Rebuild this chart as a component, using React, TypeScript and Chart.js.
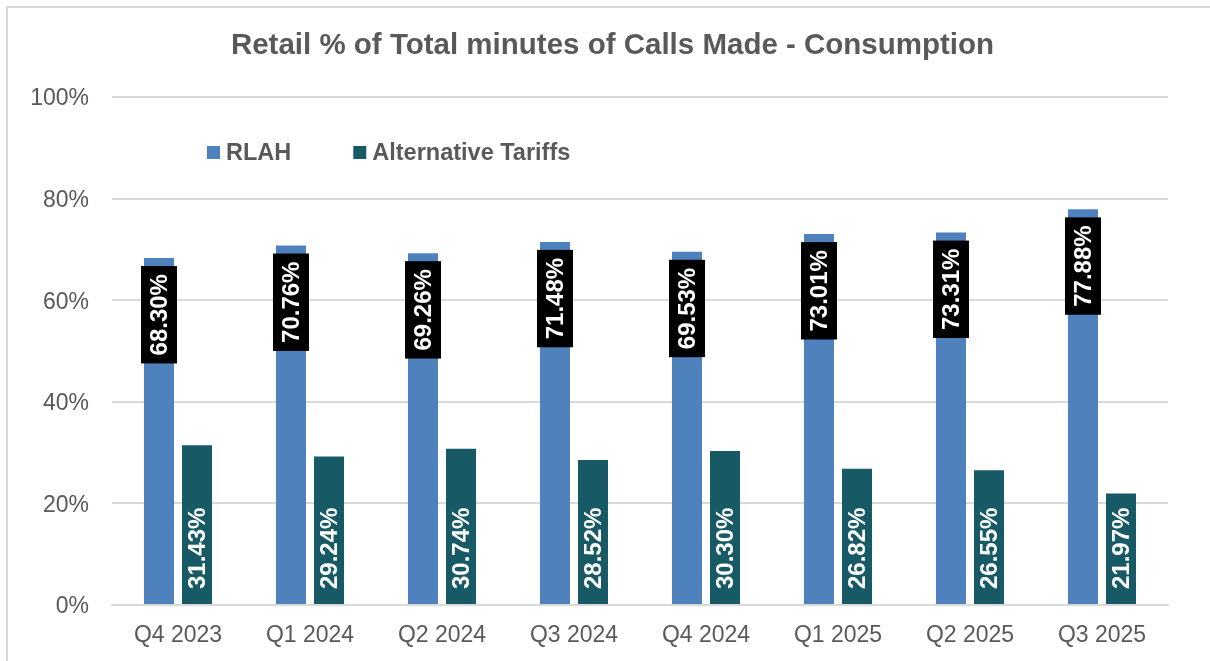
import React, { useEffect, useRef } from "react";
import { Chart, registerables } from "chart.js";

Chart.register(...registerables);

const categories = ["Q4 2023", "Q1 2024", "Q2 2024", "Q3 2024", "Q4 2024", "Q1 2025", "Q2 2025", "Q3 2025"];
const rlahValues = [68.3, 70.76, 69.26, 71.48, 69.53, 73.01, 73.31, 77.88];
const altValues = [31.43, 29.24, 30.74, 28.52, 30.3, 26.82, 26.55, 21.97];
const seriesNames = ["RLAH", "Alternative Tariffs"];
const yTicks = [0, 20, 40, 60, 80, 100];
const titleText = "Retail % of Total minutes of Calls Made - Consumption";

const FONT = "'Liberation Sans', Arial, sans-serif";
const GREY = "#595959";
const BLUE = "#4f81bd";
const TEAL = "#175a65";

const framePlugin = {
  id: "frame",
  beforeDraw(chart: any) {
    const ctx = chart.ctx;
    ctx.save();
    ctx.fillStyle = "#ffffff";
    ctx.fillRect(0, 0, chart.width, chart.height);
    ctx.strokeStyle = "#d9d9d9";
    ctx.lineWidth = 2;
    ctx.strokeRect(7, 7, chart.width + 20, chart.height + 20);
    ctx.restore();
  },
};

const titlePlugin = {
  id: "chartTitle",
  afterDraw(chart: any) {
    const ctx = chart.ctx;
    ctx.save();
    ctx.font = `bold 29.5px ${FONT}`;
    ctx.fillStyle = GREY;
    ctx.textAlign = "center";
    ctx.textBaseline = "middle";
    ctx.fillText(titleText, 612.5, 46);
    ctx.restore();
  },
};

const legendPlugin = {
  id: "innerLegend",
  afterDraw(chart: any) {
    const ctx = chart.ctx;
    ctx.save();
    ctx.font = `bold 23.5px ${FONT}`;
    ctx.textBaseline = "middle";
    ctx.textAlign = "left";
    let x = 207;
    const y = 152.5;
    chart.data.datasets.forEach((ds: any) => {
      ctx.fillStyle = ds.backgroundColor;
      ctx.fillRect(x, y - 6.5, 13, 13);
      ctx.fillStyle = GREY;
      ctx.fillText(ds.label, x + 19, y + 1.5);
      x += 19 + ctx.measureText(ds.label).width + 62;
    });
    ctx.restore();
  },
};

const labelPlugin = {
  id: "barLabels",
  afterDatasetsDraw(chart: any) {
    const ctx = chart.ctx;
    ctx.save();
    ctx.font = `bold 24px ${FONT}`;
    chart.data.datasets.forEach((ds: any, di: number) => {
      const meta = chart.getDatasetMeta(di);
      meta.data.forEach((bar: any, i: number) => {
        const txt = Number(ds.data[i]).toFixed(2) + "%";
        const tw = ctx.measureText(txt).width;
        if (di === 0) {
          const boxH = tw + 16;
          const boxW = 36;
          const top = bar.y + 8;
          ctx.fillStyle = "#000000";
          ctx.fillRect(bar.x - boxW / 2, top, boxW, boxH);
          ctx.save();
          ctx.translate(bar.x, top + boxH / 2);
          ctx.rotate(-Math.PI / 2);
          ctx.fillStyle = "#ffffff";
          ctx.textAlign = "center";
          ctx.textBaseline = "middle";
          ctx.fillText(txt, 0, 1);
          ctx.restore();
        } else {
          ctx.save();
          ctx.translate(bar.x, bar.base - 15);
          ctx.rotate(-Math.PI / 2);
          ctx.fillStyle = "#ffffff";
          ctx.textAlign = "left";
          ctx.textBaseline = "middle";
          ctx.fillText(txt, 0, 1);
          ctx.restore();
        }
      });
    });
    ctx.restore();
  },
};

export default function App() {
  const ref = useRef<HTMLCanvasElement | null>(null);
  useEffect(() => {
    if (!ref.current) return;
    const chart = new Chart(ref.current, {
      type: "bar",
      data: {
        labels: categories,
        datasets: [
          { label: seriesNames[0], data: rlahValues, backgroundColor: BLUE, borderWidth: 0 },
          { label: seriesNames[1], data: altValues, backgroundColor: TEAL, borderWidth: 0 },
        ],
      },
      options: {
        animation: false,
        responsive: false,
        devicePixelRatio: 1,
        layout: { padding: { left: 0, right: 42, top: 97, bottom: 0 } },
        datasets: { bar: { categoryPercentage: 0.576, barPercentage: 0.79 } },
        plugins: {
          legend: { display: false },
          tooltip: { enabled: false },
          title: { display: false },
        },
        scales: {
          x: {
            grid: { display: false, drawTicks: false },
            border: { display: true, color: "#d9d9d9", width: 2 },
            ticks: { color: GREY, font: { family: FONT, size: 23 }, padding: 17 },
            afterFit(scale: any) {
              scale.height = 56;
            },
          },
          y: {
            min: 0,
            max: 100,
            afterBuildTicks(scale: any) {
              scale.ticks = yTicks.map((v) => ({ value: v }));
            },
            grid: { color: "#d9d9d9", lineWidth: 2, drawTicks: false },
            border: { display: false },
            ticks: {
              color: GREY,
              font: { family: FONT, size: 23 },
              padding: 23,
              labelOffset: 2,
              callback: (v: any) => v + "%",
            },
            afterFit(scale: any) {
              scale.width = 112;
            },
          },
        },
      } as any,
      plugins: [framePlugin, titlePlugin, legendPlugin, labelPlugin],
    });
    return () => chart.destroy();
  }, []);
  return (
    <div style={{ position: "absolute", left: 0, top: 0, width: 1210, height: 661, background: "#fff" }}>
      <canvas ref={ref} width={1210} height={661} style={{ display: "block" }} />
    </div>
  );
}
